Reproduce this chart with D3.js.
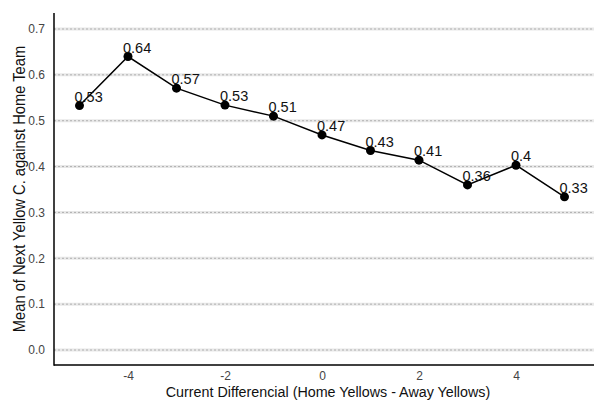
<!DOCTYPE html>
<html>
<head>
  <meta charset="utf-8">
  <script src="https://d3js.org/d3.v7.min.js"></script>
  <style>
  body { margin: 0; background: white; }
  text { font-family: "Liberation Sans", Arial, sans-serif; }
  </style>
</head>
<body>
  <div id='container'></div>
  <script>

  var diffs = [-5, -4, -3, -2, -1, 0, 1, 2, 3, 4, 5]
  var means = [0.533, 0.640, 0.571, 0.534, 0.510, 0.469, 0.435, 0.414, 0.360, 0.403, 0.334]
  var labels = ['0.53', '0.64', '0.57', '0.53', '0.51', '0.47', '0.43', '0.41', '0.36', '0.4', '0.33']
  var xTicks = [-4, -2, 0, 2, 4]
  var yTicks = [0.0, 0.1, 0.2, 0.3, 0.4, 0.5, 0.6, 0.7]

  const width = 594
  const height = 400
  const plotLeft = 54, plotTop = 13, plotBottom = 365, plotRight = 594

  var svg = d3.select('#container')
    .append('svg')
    .attr('width', width)
    .attr('height', height)

  var xScale = d3.scaleLinear()
    .domain([0, 2])
    .range([322, 419])

  var yScale = d3.scaleLinear()
    .domain([0, 0.7])
    .range([350, 29])

  // gridlines: light band with a dotted line on top
  var grid = svg.append('g')
  grid.selectAll('.gl')
    .data(yTicks)
    .enter()
    .append('line')
    .attr('x1', plotLeft).attr('x2', plotRight)
    .attr('y1', d => yScale(d)).attr('y2', d => yScale(d))
    .style('stroke', '#e8e8e8')
    .style('stroke-width', 3)
  grid.selectAll('.gd')
    .data(yTicks)
    .enter()
    .append('line')
    .attr('x1', plotLeft).attr('x2', plotRight)
    .attr('y1', d => yScale(d)).attr('y2', d => yScale(d))
    .style('stroke', '#b0b0b0')
    .style('stroke-width', 1)
    .style('stroke-dasharray', '2,2')

  // axes
  var yAxis = d3.axisLeft(yScale)
    .tickValues(yTicks)
    .tickFormat(d3.format('.1f'))
    .tickSize(0)
    .tickPadding(9)

  var xAxis = d3.axisBottom(xScale)
    .tickValues(xTicks)
    .tickFormat(d => String(d))
    .tickSize(0)
    .tickPadding(6)

  var gy = svg.append('g')
    .attr('transform', 'translate(' + plotLeft + ',0)')
    .call(yAxis)
  gy.select('.domain').remove()

  var gx = svg.append('g')
    .attr('transform', 'translate(0,' + plotBottom + ')')
    .call(xAxis)
  gx.select('.domain').remove()

  svg.selectAll('.tick text')
    .style('font-size', '12px')
    .style('fill', '#444')
    .style('font-family', '"Liberation Sans", Arial, sans-serif')

  svg.append('line')
    .attr('x1', plotLeft).attr('x2', plotLeft)
    .attr('y1', plotTop).attr('y2', plotBottom + 0.75)
    .style('stroke', 'black').style('stroke-width', 1.5)
  svg.append('line')
    .attr('x1', plotLeft).attr('x2', plotRight)
    .attr('y1', plotBottom).attr('y2', plotBottom)
    .style('stroke', 'black').style('stroke-width', 1.5)

  // line + points
  var pts = diffs.map((d, i) => ({x: d, y: means[i], label: labels[i]}))

  var line = d3.line()
    .x(d => xScale(d.x))
    .y(d => yScale(d.y))

  svg.append('path')
    .datum(pts)
    .attr('d', line)
    .style('fill', 'none')
    .style('stroke', 'black')
    .style('stroke-width', 1.5)

  svg.selectAll('.pt')
    .data(pts)
    .enter()
    .append('circle')
    .attr('cx', d => xScale(d.x))
    .attr('cy', d => yScale(d.y))
    .attr('r', 4.5)
    .style('fill', 'black')

  svg.selectAll('.lbl')
    .data(pts)
    .enter()
    .append('text')
    .attr('x', d => xScale(d.x) - 5)
    .attr('y', d => yScale(d.y) - 4)
    .style('font-size', '14.5px')
    .style('fill', '#111')
    .text(d => d.label)

  // titles
  svg.append('text')
    .attr('transform', 'translate(328,397) scale(1,1.05)')
    .attr('text-anchor', 'middle')
    .style('font-size', '14.3px')
    .style('fill', '#111')
    .text('Current Differencial (Home Yellows - Away Yellows)')

  svg.append('text')
    .attr('transform', 'translate(25,189) rotate(-90) scale(1,1.1)')
    .attr('text-anchor', 'middle')
    .style('font-size', '14.7px')
    .style('fill', '#111')
    .text('Mean of Next Yellow C. against Home Team')

  </script>
</body>
</html>
